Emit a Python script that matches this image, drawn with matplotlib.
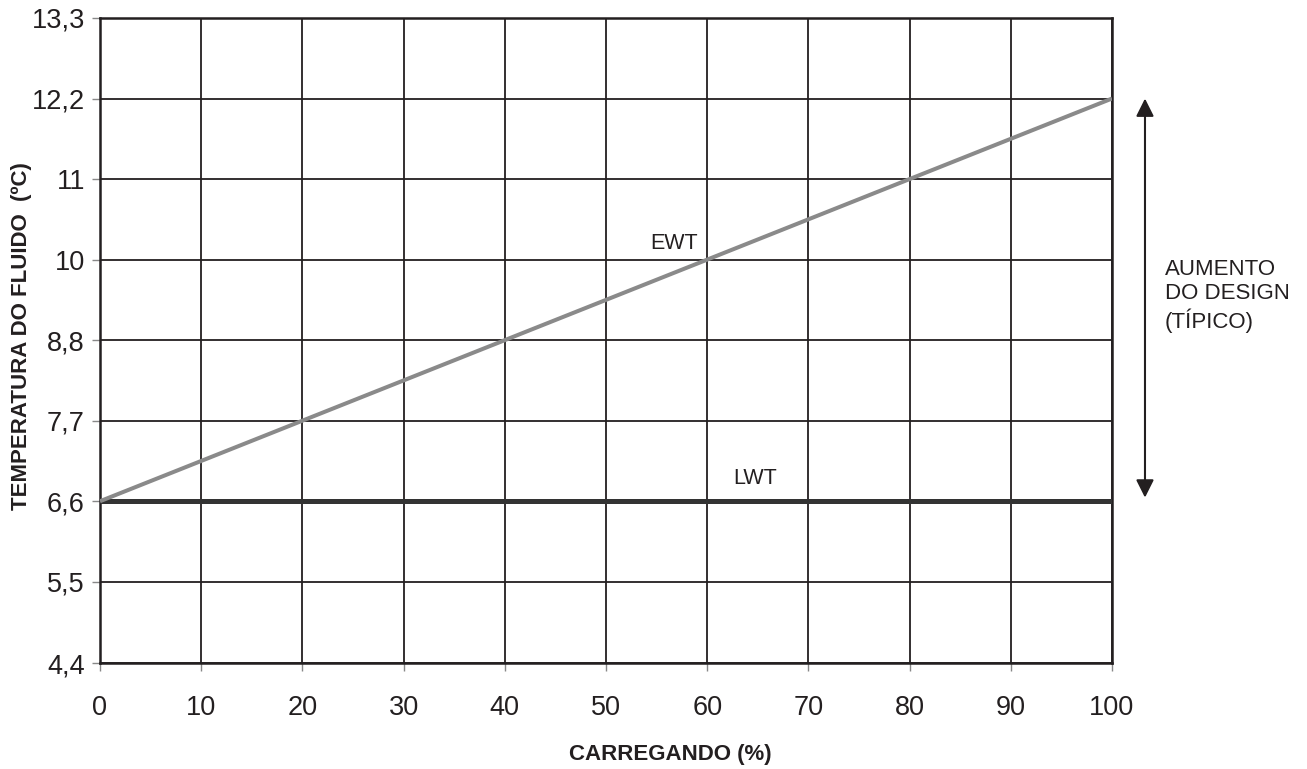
import numpy as np
import matplotlib.pyplot as plt
from matplotlib.transforms import blended_transform_factory

plt.rcParams['font.family'] = ['Liberation Sans', 'DejaVu Sans']

# data: the chart is linear in deg F (40..56 F), labelled in deg C
load_pct = [0, 100]
ewt_c = [6.67, 12.22]
lwt_c = [6.67, 6.67]
x_ticks = [0, 10, 20, 30, 40, 50, 60, 70, 80, 90, 100]
y_ticks = [4.44, 5.56, 6.67, 7.78, 8.89, 10.0, 11.11, 12.22, 13.33]
y_labels = ['4,4', '5,5', '6,6', '7,7', '8,8', '10', '11', '12,2', '13,3']

ink = '#231f20'

fig = plt.figure(figsize=(13.07, 7.69), dpi=100)
ax = fig.add_axes([0.0765, 0.1378, 0.7743, 0.8388])

ax.plot(load_pct, lwt_c, color='#333333', lw=3.6, solid_capstyle='butt', zorder=3)
ax.plot(load_pct, ewt_c, color='#8a8a8a', lw=2.9, solid_capstyle='butt', zorder=4)

ax.set_xlim(0, 100)
ax.set_ylim(y_ticks[0], y_ticks[-1])
ax.set_xticks(x_ticks)
ax.set_yticks(y_ticks)
ax.set_yticklabels(y_labels)
ax.grid(True, color=ink, lw=1.3)
for s in ax.spines.values():
    s.set_color(ink)
    s.set_linewidth(1.8)
ax.tick_params(direction='out', length=5.8, width=1, color='#888888',
               labelsize=19.5, labelcolor=ink)
ax.tick_params(axis='x', pad=17)
ax.tick_params(axis='y', pad=5)

ax.set_xlabel('CARREGANDO (%)', fontsize=16, fontweight='bold', color=ink)
ax.xaxis.set_label_coords(0.564, -0.125)
ax.set_ylabel('TEMPERATURA DO FLUIDO  (ºC)', fontsize=16, fontweight='bold', color=ink)
ax.yaxis.set_label_coords(-0.067, 0.507)

ax.text(56.7, 10.22, 'EWT', fontsize=15.5, ha='center', va='center', color=ink)
ax.text(64.7, 6.99, 'LWT', fontsize=15.5, ha='center', va='center', color=ink)

# design rise arrow right of the axes
trans = blended_transform_factory(ax.transAxes, ax.transData)
ax.annotate('', xy=(1.0326, 12.22), xytext=(1.0326, 6.72), xycoords=trans,
            textcoords=trans,
            arrowprops=dict(arrowstyle='<|-|>,head_length=0.4,head_width=0.2',
                            color=ink, lw=1.5, mutation_scale=27,
                            shrinkA=0, shrinkB=0),
            annotation_clip=False)
ax.text(1.0524, 10.01, 'AUMENTO\nDO DESIGN\n(TÍPICO)', transform=trans,
        fontsize=16, ha='left', va='top', color=ink, linespacing=1.22)

fig.savefig('out.png', dpi=100)
